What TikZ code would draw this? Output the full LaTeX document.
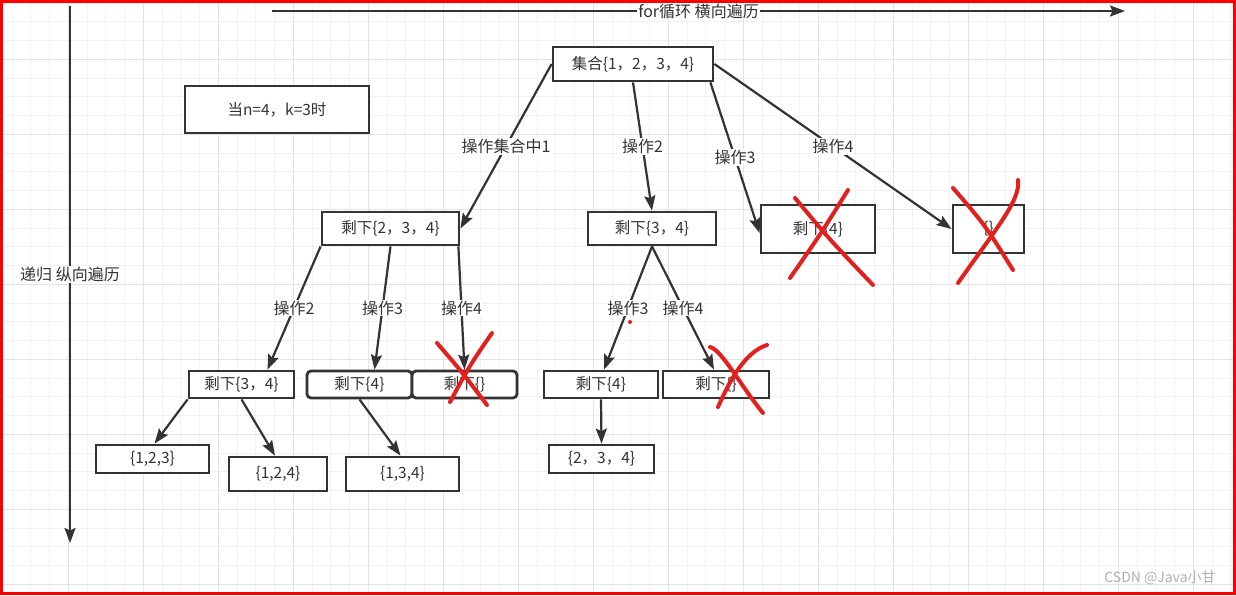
\documentclass[tikz,border=0pt]{standalone}
\usepackage{fontspec}
\setmainfont{Noto Sans CJK SC}
\usepackage{xcolor}
\usepackage{tikz}
\usetikzlibrary{arrows.meta}
\definecolor{ink}{HTML}{333333}
\definecolor{redpen}{HTML}{E3201E}
\definecolor{gridlight}{HTML}{F2F2F2}
\definecolor{griddark}{HTML}{E3E3E3}
\definecolor{faint}{HTML}{B0B0B0}

\begin{document}
\begin{tikzpicture}[x=1pt,y=-1pt,
  box/.style={draw=ink, line width=2.8pt, fill=white, text=ink, inner sep=0pt, font=\fontsize{15.5}{18}\selectfont},
  rbox/.style={box, rounded corners=4pt},
  arr/.style={ink, line width=2.2pt, -{Stealth[length=15pt,width=11pt,inset=2.5pt]}},
  lbl/.style={fill=white, text=ink, inner sep=1pt, font=\fontsize{16}{18}\selectfont},
  redx/.style={redpen, line width=4pt, line cap=round}]
  \useasboundingbox (0,0) rectangle (1236,595);
  \fill[white] (0,0) rectangle (1236,595);
  % grid
  \foreach \gx in {12.05,30.8,...,1234} \draw[gridlight, line width=1pt] (\gx,0) -- (\gx,595);
  \foreach \gy in {3.05,21.8,...,594} \draw[gridlight, line width=1pt] (0,\gy) -- (1236,\gy);
  \foreach \gx in {68.3,143.3,...,1234} \draw[griddark, line width=1pt] (\gx,0) -- (\gx,595);
  \foreach \gy in {59.3,134.3,...,594} \draw[griddark, line width=1pt] (0,\gy) -- (1236,\gy);
  \draw[red, line width=3pt] (1.5,1.5) rectangle (1234.5,593.5);

  \coordinate (h0) at (272,11);
  \coordinate (h1) at (1125,11);
  \coordinate (v0) at (70,6);
  \coordinate (v1) at (70,543);

  \node[box, minimum width=184pt, minimum height=47pt] (note) at (277,109.5) {当n=4，k=3时};
  \node[box, minimum width=160pt, minimum height=34pt] (root) at (633,64) {集合\{1，2，3，4\}};
  \node[box, minimum width=137pt, minimum height=33pt] (r234) at (390.5,228.5) {剩下\{2，3，4\}};
  \node[box, minimum width=128pt, minimum height=33pt] (s34) at (652,228.5) {剩下\{3，4\}};
  \node[box, minimum width=114pt, minimum height=48pt] (s4) at (818,229) {剩下\{4\}};
  \node[box, minimum width=71pt, minimum height=48pt] (none) at (988.5,229) {\{\}};
  \node[box, minimum width=105pt, minimum height=27pt] (a) at (241.5,384.5) {剩下\{3，4\}};
  \node[rbox, minimum width=105pt, minimum height=27pt] (b) at (359.5,384.5) {剩下\{4\}};
  \node[rbox, minimum width=105pt, minimum height=27pt] (c) at (464.5,384.5) {剩下\{\}};
  \node[box, minimum width=114pt, minimum height=27pt] (d) at (601,384.5) {剩下\{4\}};
  \node[box, minimum width=106pt, minimum height=27pt] (f) at (716,384.5) {剩下\{\}};
  \node[box, minimum width=113pt, minimum height=28pt] (g) at (152.5,459) {\{1,2,3\}};
  \node[box, minimum width=98pt, minimum height=34pt] (h) at (278,474) {\{1,2,4\}};
  \node[box, minimum width=113pt, minimum height=34pt] (i) at (402.5,474) {\{1,3,4\}};
  \node[box, minimum width=105pt, minimum height=28pt] (j) at (601.5,459) {\{2，3，4\}};

  \draw[arr] (h0) -- node[lbl] {for循环 横向遍历} (h1);
  \draw[arr] (v0) -- node[lbl] {递归 纵向遍历} (v1);

  \draw[arr] (root.west) -- node[lbl] {操作集合中1} (r234.east);
  \draw[arr] (root.south) -- node[lbl] {操作2} (s34.north);
  \draw[arr] ([xshift=-4pt]root.south east) -- node[lbl] {操作3} ([yshift=-4pt]s4.west);
  \draw[arr] (root.east) -- node[lbl] {操作4} (none.west);

  \draw[arr] (r234.south west) -- node[lbl] {操作2} ([xshift=26pt]a.north);
  \draw[arr] (r234.south) -- node[lbl] {操作3} ([xshift=15pt]b.north);
  \draw[arr] ([xshift=-2pt]r234.south east) -- node[lbl] {操作4} (c.north);
  \draw[arr] (s34.south) -- node[lbl] {操作3} ([xshift=3pt]d.north);
  \draw[arr] (s34.south) -- node[lbl] {操作4} ([xshift=-2pt]f.north);

  \draw[arr] (a.south west) -- ([xshift=2pt]g.north);
  \draw[arr] (a.south) -- ([xshift=-3pt]h.north);
  \draw[arr] (b.south) -- ([xshift=-2pt]i.north);
  \draw[arr] (d.south) -- (j.north);

  % red crosses
  \draw[redx] (795,198) .. controls (830,240) .. (873,285);
  \draw[redx] (848,190) .. controls (820,235) .. (790,278);
  \draw[redx] (953,188) .. controls (985,225) .. (1013,270);
  \draw[redx] (1018,180) .. controls (1021,200) and (995,230) .. (958,283);
  \draw[redx] (437,343) .. controls (462,372) .. (487,405);
  \draw[redx] (492,333) .. controls (470,365) .. (450,402);
  \draw[redx] (710,347) .. controls (722,350) and (740,385) .. (763,413);
  \draw[redx] (767,345) .. controls (745,352) and (730,380) .. (718,407);
  \fill[redpen] (630,322) circle (2);

  \node[text=faint, font=\fontsize{14}{16}\selectfont] (wm) at (1160,578) {CSDN @Java小甘};
\end{tikzpicture}
\end{document}
